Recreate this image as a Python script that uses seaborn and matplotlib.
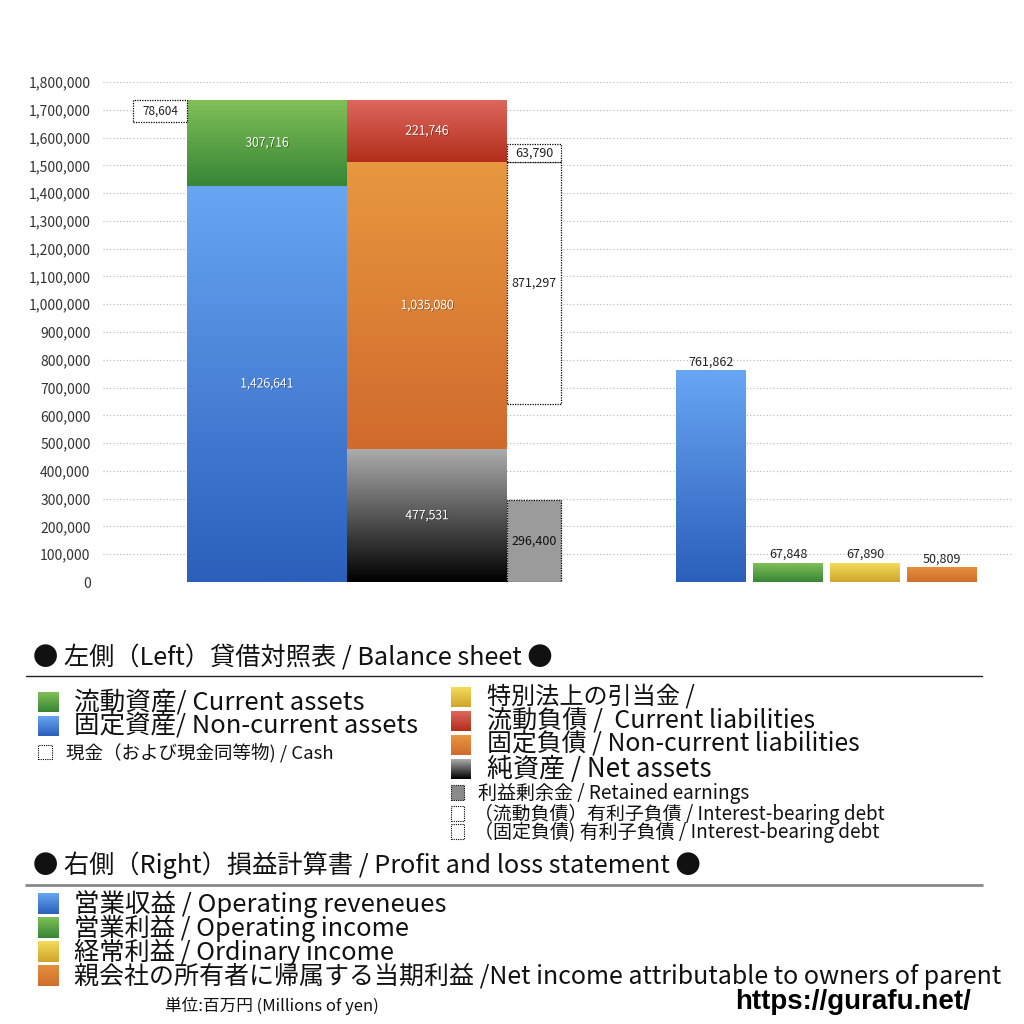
import numpy as np
import pandas as pd
import matplotlib
matplotlib.use("Agg")
import matplotlib.pyplot as plt
import seaborn as sns
from matplotlib.colors import LinearSegmentedColormap
from matplotlib.patches import Rectangle
import matplotlib.patheffects as pe

# ---------------- data ----------------
assets_labels = ["固定資産", "流動資産"]
assets_values = [1426641, 307716]
liab_labels = ["純資産", "固定負債", "流動負債"]
liab_values = [477531, 1035080, 221746]
cash_value = 78604
retained_value = 296400
debt_labels = ["固定負債 有利子負債", "流動負債 有利子負債"]
debt_values = [871297, 63790]
pl_labels = ["営業収益", "営業利益", "経常利益", "当期利益"]
pl_values = [761862, 67848, 67890, 50809]
ytick_values = list(range(0, 1800001, 100000))

# ---------------- style ----------------
sns.set_theme(style="white")
plt.rcParams['font.family'] = ['Noto Sans CJK JP', 'DejaVu Sans']

GRAD = {
    'blue': ('#68A6F3', '#2B5FBB'),
    'green': ('#80C058', '#378535'),
    'red': ('#DD675E', '#B32E1A'),
    'orange': ('#E8983F', '#D06A2D'),
    'black': ('#ACACAC', '#000000'),
    'yellow': ('#F3DC58', '#CFA42E'),
    'porange': ('#E48F3D', '#CF6E2C'),
}

W = 1024.0
fig = plt.figure(figsize=(10.24, 10.24), dpi=100)
fig.patch.set_facecolor('white')


def fx(px):
    return px / W


def fy(py):
    return 1 - py / W


AX_L, AX_R, AX_T, AX_B = 103, 1012, 82, 582
ax = fig.add_axes([fx(AX_L), fy(AX_B), (AX_R - AX_L) / W, (AX_B - AX_T) / W])


def grad_fill(axis, x, y, w, h, key, z=2):
    top, bottom = GRAD[key]
    cmap = LinearSegmentedColormap.from_list('g', [bottom, top])
    arr = np.linspace(0, 1, 256).reshape(-1, 1)
    axis.imshow(arr, extent=[x, x + w, y, y + h], origin='lower', cmap=cmap,
                aspect='auto', zorder=z, interpolation='bilinear')


shadow = [pe.withSimplePatchShadow(offset=(0.6, -0.6), shadow_rgbFace='black', alpha=0.45), pe.Normal()]


def inner_label(x, y, v):
    ax.text(x, y, f"{v:,}", ha='center', va='center', color='white', fontsize=9,
            fontweight='light', zorder=6, path_effects=shadow)


# ---------------- P&L bars (seaborn) ----------------
pl_x = [711, 788, 865, 942]
pl_keys = ['blue', 'green', 'yellow', 'porange']
df_pl = pd.DataFrame({'x': pl_x, 'value': pl_values, 'item': pl_labels})
n0 = len(ax.patches)
sns.barplot(data=df_pl, x='x', y='value', hue='item', hue_order=pl_labels,
            palette=[GRAD[k][1] for k in pl_keys], native_scale=True,
            width=0.905, dodge=False, legend=False, ax=ax, errorbar=None,
            linewidth=0, saturation=1)
pl_patches = ax.patches[n0:]
for p, key in zip(pl_patches, pl_keys):
    if p.get_height() > 0:
        grad_fill(ax, p.get_x(), p.get_y(), p.get_width(), p.get_height(), key)
        p.set_alpha(0)
for x, v in zip(pl_x, pl_values):
    ax.annotate(f"{v:,}", (x, v), xytext=(0, 1.5), textcoords='offset points',
                ha='center', va='bottom', fontsize=9, color='#222222', zorder=6)

# ---------------- balance sheet ----------------
col1_x, col2_x, col3_x, cash_x = 267, 427, 534, 160
wide, narrow = 160, 54

bottom = 0
for v, key in zip(assets_values, ['blue', 'green']):
    ax.bar(col1_x, v, bottom=bottom, width=wide, color=GRAD[key][1], linewidth=0, zorder=1)
    grad_fill(ax, col1_x - wide / 2, bottom, wide, v, key)
    inner_label(col1_x, bottom + v / 2, v)
    bottom += v
assets_total = bottom

bottom = 0
for v, key in zip(liab_values, ['black', 'orange', 'red']):
    ax.bar(col2_x, v, bottom=bottom, width=wide, color=GRAD[key][1], linewidth=0, zorder=1)
    grad_fill(ax, col2_x - wide / 2, bottom, wide, v, key)
    inner_label(col2_x, bottom + v / 2, v)
    bottom += v

dots = (0, (1, 1.0))
# cash box (top aligned with assets)
cash_bottom = assets_total - cash_value
ax.bar(cash_x, cash_value, bottom=cash_bottom, width=narrow, facecolor='white',
       edgecolor='black', linestyle=dots, linewidth=0.9, zorder=3)
ax.text(cash_x, cash_bottom + cash_value / 2, f"{cash_value:,}", ha='center', va='center',
        fontsize=8.5, color='#222222', zorder=6)

# retained earnings
ax.bar(col3_x, retained_value, bottom=0, width=narrow, facecolor='#9b9b9b',
       edgecolor='black', linestyle=dots, linewidth=0.9, zorder=3)
ax.text(col3_x, retained_value / 2, f"{retained_value:,}", ha='center', va='center',
        fontsize=9, color='#111111', zorder=6)

# interest-bearing debt boxes
ncl_top = liab_values[0] + liab_values[1]
d_bottoms = [ncl_top - debt_values[0], ncl_top]
for v, b in zip(debt_values, d_bottoms):
    ax.bar(col3_x, v, bottom=b, width=narrow, facecolor='white', edgecolor='black',
           linestyle=dots, linewidth=0.9, zorder=3)
    ax.text(col3_x, b + v / 2, f"{v:,}", ha='center', va='center', fontsize=9,
            color='#222222', zorder=6)

# ---------------- axes styling ----------------
ax.set_xlim(AX_L, AX_R)
ax.set_ylim(0, 1800000)
ax.set_yticks(ytick_values)
ax.set_yticklabels([f"{t:,}" for t in ytick_values], fontsize=10, color='#333333')
ax.set_xticks([])
ax.set_xlabel('')
ax.set_ylabel('')
ax.tick_params(axis='y', length=0, pad=9)
ax.yaxis.grid(True, linestyle=(0, (1, 2)), color='#b5b5b5', linewidth=0.8)
ax.set_axisbelow(True)
for s in ax.spines.values():
    s.set_visible(False)
ax.set_facecolor('none')

# ---------------- legend (figure coords) ----------------
renderer = fig.canvas.get_renderer()


def fit_text(x, yc, s, target_w, size=16, **kw):
    t = fig.text(fx(x), fy(yc), s, ha='left', va='center', fontsize=size, color='#111111', **kw)
    w = t.get_window_extent(renderer=renderer).width
    if w > 0:
        t.set_fontsize(size * target_w / w)
    return t


def grad_square(x0, y0, x1, y1, key):
    a = fig.add_axes([fx(x0), fy(y1), (x1 - x0) / W, (y1 - y0) / W])
    top, bot = GRAD[key]
    cmap = LinearSegmentedColormap.from_list('g', [bot, top])
    a.imshow(np.linspace(0, 1, 64).reshape(-1, 1), origin='lower', cmap=cmap, aspect='auto',
             extent=[0, 1, 0, 1])
    a.set_axis_off()


def dotted_square(x0, y0, x1, y1, face='white'):
    fig.add_artist(Rectangle((fx(x0), fy(y1)), (x1 - x0) / W, (y1 - y0) / W,
                             transform=fig.transFigure, facecolor=face, edgecolor='black',
                             linestyle=(0, (1, 1)), linewidth=0.8))


def hline(y, x0, x1, color, lw):
    fig.add_artist(plt.Line2D([fx(x0), fx(x1)], [fy(y), fy(y)], transform=fig.transFigure,
                              color=color, linewidth=lw))


# Header 1
fit_text(33, 658, "● 左側（Left）貸借対照表 / Balance sheet ●", 520)
hline(676, 26, 982, '#222222', 1.0)

grad_square(38, 692, 59, 712, 'green')
fit_text(74, 702, "流動資産/ Current assets", 290)
grad_square(38, 716, 59, 736, 'blue')
fit_text(74, 726, "固定資産/ Non-current assets", 343)
dotted_square(38, 745, 52, 759)
fit_text(66, 753, "現金（および現金同等物) / Cash", 268)

grad_square(451, 687, 471, 707, 'yellow')
fit_text(487, 697, "特別法上の引当金 /", 208)
grad_square(451, 711, 471, 731, 'red')
fit_text(487, 721, "流動負債 /  Current liabilities", 329)
grad_square(451, 735, 471, 755, 'orange')
fit_text(487, 745, "固定負債 / Non-current liabilities", 374)
grad_square(451, 759, 471, 779, 'black')
fit_text(487, 769, "純資産 / Net assets", 224)
dotted_square(451, 785, 464, 800, face='#8a8a8a')
fit_text(478, 793, "利益剰余金 / Retained earnings", 271)
dotted_square(451, 806, 464, 821)
fit_text(474, 814, "（流動負債）有利子負債 / Interest-bearing debt", 410)
dotted_square(451, 824, 464, 839)
fit_text(474, 832, "（固定負債) 有利子負債 / Interest-bearing debt", 405)

# Header 2
fit_text(33, 865, "● 右側（Right）損益計算書 / Profit and loss statement ●", 668)
hline(885, 26, 982, '#888888', 2.0)

grad_square(38, 893, 59, 914, 'blue')
fit_text(74, 904, "営業収益 / Operating reveneues", 371)
grad_square(38, 917, 59, 938, 'green')
fit_text(74, 928, "営業利益 / Operating income", 335)
grad_square(38, 941, 59, 962, 'yellow')
fit_text(74, 952, "経常利益 / Ordinary income", 320)
grad_square(38, 965, 59, 986, 'porange')
fit_text(74, 976, "親会社の所有者に帰属する当期利益 /Net income attributable to owners of parent", 928)

fit_text(165, 1006, "単位:百万円 (Millions of yen)", 213, size=11)
t = fig.text(fx(735), fy(1002), "https://gurafu.net/", ha='left', va='center', fontsize=16,
             fontweight='bold', family=['Liberation Sans', 'DejaVu Sans'], color='black')
w = t.get_window_extent(renderer=renderer).width
t.set_fontsize(16 * 235 / w)

fig.savefig("out.png", dpi=100, facecolor='white')
